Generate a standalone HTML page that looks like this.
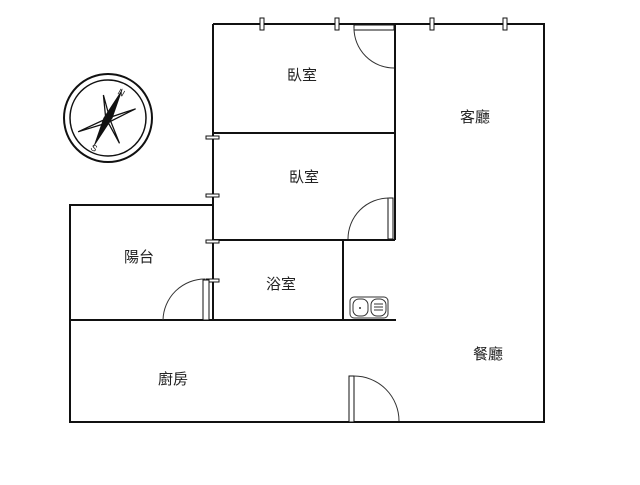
<!DOCTYPE html>
<html><head><meta charset="utf-8"><style>
body{margin:0;background:#fff}
svg text{font-family:"Liberation Sans","Noto Sans CJK TC",sans-serif;font-size:15px;fill:#222}
</style></head><body>
<svg width="640" height="480" viewBox="0 0 640 480" xmlns="http://www.w3.org/2000/svg">
<g stroke="#111" stroke-width="2" fill="none">
<path d="M213,24 H544 V422 H70 V205 H213"/>
<path d="M213,24 V320"/>
<path d="M395,24 V240"/>
<path d="M213,133 H395"/>
<path d="M213,240 H395"/>
<path d="M343,240 V320"/>
<path d="M70,320 H396"/>
</g>
<g stroke="#111" stroke-width="1" fill="#fff">
<rect x="260" y="18" width="4" height="12"/>
<rect x="335" y="18" width="4" height="12"/>
<rect x="430" y="18" width="4" height="12"/>
<rect x="503" y="18" width="4" height="12"/>
<rect x="206" y="136" width="13" height="3"/>
<rect x="206" y="194" width="13" height="3"/>
<rect x="206" y="240" width="13" height="3"/>
<rect x="206" y="279" width="13" height="3"/>
<rect x="354" y="25" width="40" height="5"/>
<rect x="388" y="198" width="5" height="41"/>
<rect x="203" y="280" width="6" height="40"/>
<rect x="349" y="376" width="5" height="46"/>
</g>
<g stroke="#333" stroke-width="1" fill="none">
<path d="M354,28 A40,40 0 0 0 394,68"/>
<path d="M348,239 A41,41 0 0 1 389,198"/>
<path d="M163,320 A42,42 0 0 1 205,279"/>
<path d="M354,376 A45,45 0 0 1 399,421"/>
<rect x="350" y="297" width="38" height="21" rx="4"/>
<rect x="353" y="299" width="15" height="17" rx="6"/>
<rect x="371" y="299" width="15" height="17" rx="6"/>
<path d="M374,304 H383 M374,307 H383 M374,310 H383"/>
</g>
<circle cx="360" cy="308" r="1" fill="#333"/>
<g transform="translate(108,118)">
<circle r="44" stroke="#111" stroke-width="2" fill="none"/>
<circle r="38" stroke="#111" stroke-width="1.5" fill="none"/>
<g transform="scale(1.15)">
<path d="M-4,-20 L2,2 L10,22 L-2,0Z M-26,12 L0,0 L24,-8 L0,4Z" stroke="#111" stroke-width="1.1" fill="#fff"/>
<path d="M13,-26 L4,0 L-13,26 L-4,0 Z" fill="#111"/>
</g>
<text x="10" y="-22" style="font-size:9px" transform="rotate(30 14 -25)">N</text>
<text x="-17" y="33" style="font-size:9px" transform="rotate(30 -14 30)">S</text>
</g>
<text x="287" y="80">臥室</text>
<text x="289" y="182">臥室</text>
<text x="460" y="122">客廳</text>
<text x="124" y="262">陽台</text>
<text x="266" y="289">浴室</text>
<text x="158" y="384">廚房</text>
<text x="473" y="359">餐廳</text>
</svg>
</body></html>
